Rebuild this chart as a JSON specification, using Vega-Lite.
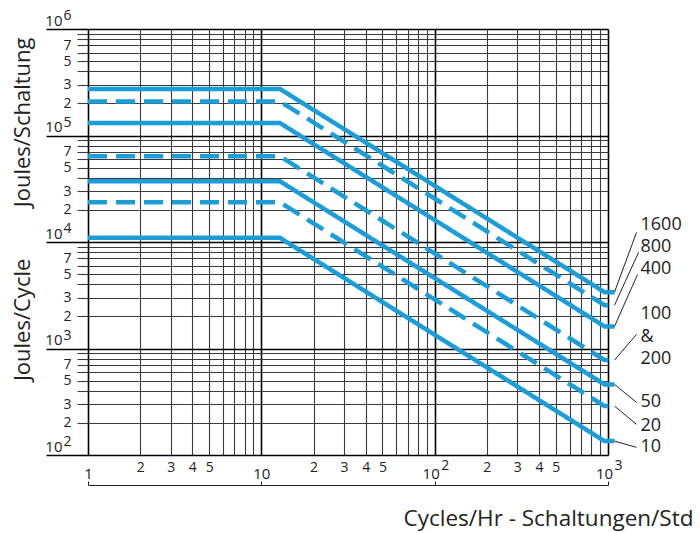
{
  "$schema": "https://vega.github.io/schema/vega-lite/v6.json",
  "width": 520,
  "height": 426,
  "autosize": {"type": "none"},
  "padding": {"left": 88, "top": 29, "right": 92, "bottom": 78},
  "background": "white",
  "config": {"view": {"stroke": null}, "font": "Open Sans"},
  "datasets": {
    "curves": [
      {"curve": "1600", "style": "solid", "cph": 1, "joules": 274000},
      {"curve": "1600", "style": "solid", "cph": 12.8, "joules": 274000},
      {"curve": "1600", "style": "solid", "cph": 955, "joules": 3380},
      {"curve": "1600", "style": "solid", "cph": 1090, "joules": 3380},
      {"curve": "800", "style": "dashed", "cph": 1, "joules": 209000},
      {"curve": "800", "style": "dashed", "cph": 12.8, "joules": 209000},
      {"curve": "800", "style": "dashed", "cph": 955, "joules": 2550},
      {"curve": "800", "style": "dashed", "cph": 1090, "joules": 2550},
      {"curve": "400", "style": "solid", "cph": 1, "joules": 131000},
      {"curve": "400", "style": "solid", "cph": 12.8, "joules": 131000},
      {"curve": "400", "style": "solid", "cph": 955, "joules": 1610},
      {"curve": "400", "style": "solid", "cph": 1090, "joules": 1610},
      {"curve": "100&200", "style": "dashed", "cph": 1, "joules": 63800},
      {"curve": "100&200", "style": "dashed", "cph": 12.8, "joules": 63800},
      {"curve": "100&200", "style": "dashed", "cph": 955, "joules": 778},
      {"curve": "100&200", "style": "dashed", "cph": 1090, "joules": 778},
      {"curve": "50", "style": "solid", "cph": 1, "joules": 37200},
      {"curve": "50", "style": "solid", "cph": 12.8, "joules": 37200},
      {"curve": "50", "style": "solid", "cph": 955, "joules": 460},
      {"curve": "50", "style": "solid", "cph": 1090, "joules": 460},
      {"curve": "20", "style": "dashed", "cph": 1, "joules": 23600},
      {"curve": "20", "style": "dashed", "cph": 12.8, "joules": 23600},
      {"curve": "20", "style": "dashed", "cph": 955, "joules": 288},
      {"curve": "20", "style": "dashed", "cph": 1090, "joules": 288},
      {"curve": "10", "style": "solid", "cph": 1, "joules": 10940},
      {"curve": "10", "style": "solid", "cph": 12.8, "joules": 10940},
      {"curve": "10", "style": "solid", "cph": 955, "joules": 135},
      {"curve": "10", "style": "solid", "cph": 1090, "joules": 135}
    ],
    "leaders": [
      {"curve": "1600", "cph": 1090, "joules": 3380, "cph2": 1460, "joules2": 12280},
      {"curve": "800", "cph": 1090, "joules": 2550, "cph2": 1500, "joules2": 7980},
      {"curve": "400", "cph": 1090, "joules": 1610, "cph2": 1480, "joules2": 4955},
      {"curve": "100&200", "cph": 1090, "joules": 778, "cph2": 1460, "joules2": 1356},
      {"curve": "50", "cph": 1090, "joules": 460, "cph2": 1460, "joules2": 312},
      {"curve": "20", "cph": 1090, "joules": 288, "cph2": 1460, "joules2": 194},
      {"curve": "10", "cph": 1090, "joules": 135, "cph2": 1460, "joules2": 118}
    ],
    "labels": [
      {"text": "1600", "cph": 1540, "joules": 14290},
      {"text": "800", "cph": 1540, "joules": 8880},
      {"text": "400", "cph": 1540, "joules": 5520},
      {"text": "100", "cph": 1540, "joules": 2089},
      {"text": "&", "cph": 1540, "joules": 1271},
      {"text": "200", "cph": 1540, "joules": 791},
      {"text": "50", "cph": 1540, "joules": 312},
      {"text": "20", "cph": 1540, "joules": 186},
      {"text": "10", "cph": 1540, "joules": 118}
    ]
  },
  "layer": [
    {
      "data": {"name": "curves"},
      "mark": {"type": "line", "clip": false, "color": "#1B9DD9", "strokeWidth": 4.5, "strokeCap": "butt", "strokeJoin": "miter"},
      "encoding": {
        "x": {
          "field": "cph", "type": "quantitative",
          "scale": {"type": "log", "domain": [1, 1000], "nice": false},
          "axis": {
            "orient": "bottom",
            "values": [1,2,3,4,5,6,7,8,9,10,20,30,40,50,60,70,80,90,100,200,300,400,500,600,700,800,900,1000],
            "grid": true,
            "gridColor": {"condition": {"test": "datum.value == 1 || datum.value == 10 || datum.value == 100 || datum.value == 1000", "value": "#000000"}, "value": "#3a3a3a"},
            "gridWidth": {"condition": {"test": "datum.value == 1 || datum.value == 10 || datum.value == 100 || datum.value == 1000", "value": 1.6}, "value": 1.1},
            "domain": false,
            "ticks": false,
            "labelExpr": "datum.value == 1 ? '1' : (datum.value == 10 || datum.value == 100 || datum.value == 1000) ? '10' : (indexof([2,3,4,5,20,30,40,50,200,300,400,500], datum.value) >= 0 ? substring(toString(datum.value), 0, 1) : '')",
            "labelBaseline": "middle",
            "labelPadding": {"condition": {"test": "datum.value == 1 || datum.value == 10 || datum.value == 100 || datum.value == 1000", "value": 18}, "value": 12},
            "labelOffset": {"condition": {"test": "datum.value == 100 || datum.value == 1000", "value": -4}, "value": 0},
            "labelFontSize": {"condition": {"test": "datum.value == 1 || datum.value == 10 || datum.value == 100 || datum.value == 1000", "value": 15}, "value": 14},
            "labelFont": "Open Sans",
            "labelColor": "#222222",
            "labelOverlap": false,
            "labelFlush": false,
            "labelBound": false,
            "title": null
          }
        },
        "y": {
          "field": "joules", "type": "quantitative",
          "scale": {"type": "log", "domain": [100, 1000000], "nice": false},
          "axis": {
            "orient": "left",
            "values": [100,200,300,400,500,600,700,800,900,1000,2000,3000,4000,5000,6000,7000,8000,9000,10000,20000,30000,40000,50000,60000,70000,80000,90000,100000,200000,300000,400000,500000,600000,700000,800000,900000,1000000],
            "grid": true,
            "gridColor": {"condition": {"test": "datum.value == 100 || datum.value == 1000 || datum.value == 10000 || datum.value == 100000 || datum.value == 1000000", "value": "#000000"}, "value": "#3a3a3a"},
            "gridWidth": {"condition": {"test": "datum.value == 100 || datum.value == 1000 || datum.value == 10000 || datum.value == 100000 || datum.value == 1000000", "value": 1.6}, "value": 1.1},
            "domain": false,
            "ticks": true,
            "tickSize": 11,
            "tickColor": "#3a3a3a",
            "tickWidth": 1.1,
            "labelExpr": "indexof([200,300,500,700,2000,3000,5000,7000,20000,30000,50000,70000,200000,300000,500000,700000], datum.value) >= 0 ? substring(toString(datum.value), 0, 1) : ''",
            "labelBaseline": "middle",
            "labelPadding": 6,
            "labelFontSize": 14,
            "labelFont": "Open Sans",
            "labelColor": "#222222",
            "labelOverlap": false,
            "labelFlush": false,
            "labelBound": false,
            "title": null
          }
        },
        "detail": {"field": "curve", "type": "nominal"},
        "strokeDash": {"field": "style", "type": "nominal", "scale": {"domain": ["solid", "dashed"], "range": [[1, 0], [19, 9]]}, "legend": null}
      }
    },
    {
      "data": {"name": "leaders"},
      "mark": {"type": "rule", "clip": false, "color": "#222222", "strokeWidth": 1},
      "encoding": {
        "x": {
          "field": "cph", "type": "quantitative",
          "scale": {"type": "log", "domain": [1, 1000], "nice": false},
          "axis": {
            "orient": "bottom",
            "values": [1, 10, 100, 1000],
            "offset": 30,
            "grid": false,
            "domain": true,
            "domainColor": "#222222",
            "domainWidth": 1,
            "ticks": true,
            "tickSize": -4,
            "tickColor": "#222222",
            "labels": false,
            "title": "Cycles/Hr - Schaltungen/Std",
            "titleFont": "Open Sans",
            "titleFontSize": 22.5,
            "titleFontWeight": "normal",
            "titleColor": "#222222",
            "titleAnchor": "end",
            "titleAlign": "right",
            "titleX": 605,
            "titlePadding": 22
          }
        },
        "x2": {"field": "cph2"},
        "y": {
          "field": "joules", "type": "quantitative",
          "scale": {"type": "log", "domain": [100, 1000000], "nice": false},
          "axis": {
            "orient": "left",
            "values": [100, 1000, 10000, 100000, 1000000],
            "grid": false,
            "domain": false,
            "ticks": true,
            "tickSize": 42,
            "tickColor": "#000000",
            "tickWidth": 1.6,
            "labelExpr": "'10'",
            "labelAlign": "right",
            "labelBaseline": "alphabetic",
            "labelOffset": -3.6,
            "labelPadding": -16,
            "labelFontSize": 15,
            "labelFont": "Open Sans",
            "labelColor": "#222222",
            "labelOverlap": false,
            "labelFlush": false,
            "labelBound": false,
            "title": "Joules/Cycle\u00a0\u00a0\u00a0\u00a0\u00a0\u00a0\u00a0\u00a0\u00a0Joules/Schaltung",
            "titleAnchor": "end",
            "titleY": 8,
            "titleFont": "Open Sans",
            "titleFontSize": 22,
            "titleFontWeight": "normal",
            "titleColor": "#222222",
            "titlePadding": 10
          }
        },
        "y2": {"field": "joules2"}
      }
    },
    {
      "data": {"name": "labels"},
      "mark": {"type": "text", "clip": false, "align": "left", "baseline": "middle", "font": "Open Sans", "fontSize": 18, "color": "#222222"},
      "encoding": {
        "x": {
          "field": "cph", "type": "quantitative",
          "scale": {"type": "log", "domain": [1, 1000], "nice": false},
          "axis": {
            "orient": "bottom",
            "values": [100, 1000],
            "grid": false,
            "domain": false,
            "ticks": false,
            "labelExpr": "datum.value == 100 ? '2' : '3'",
            "labelAlign": "left",
            "labelBaseline": "middle",
            "labelOffset": 6,
            "labelPadding": 10,
            "labelFontSize": 14,
            "labelFont": "Open Sans",
            "labelColor": "#222222",
            "labelOverlap": false,
            "labelFlush": false,
            "labelBound": false,
            "title": null
          }
        },
        "y": {
          "field": "joules", "type": "quantitative",
          "scale": {"type": "log", "domain": [100, 1000000], "nice": false},
          "axis": {
            "orient": "left",
            "values": [100, 1000, 10000, 100000, 1000000],
            "grid": false,
            "domain": false,
            "ticks": false,
            "labelExpr": "datum.value == 100 ? '2' : datum.value == 1000 ? '3' : datum.value == 10000 ? '4' : datum.value == 100000 ? '5' : '6'",
            "labelAlign": "left",
            "labelBaseline": "alphabetic",
            "labelOffset": -9.3,
            "labelPadding": 25,
            "labelFontSize": 14,
            "labelFont": "Open Sans",
            "labelColor": "#222222",
            "labelOverlap": false,
            "labelFlush": false,
            "labelBound": false,
            "title": null
          }
        },
        "text": {"field": "text", "type": "nominal"}
      }
    }
  ],
  "resolve": {"axis": {"x": "independent", "y": "independent"}}
}
